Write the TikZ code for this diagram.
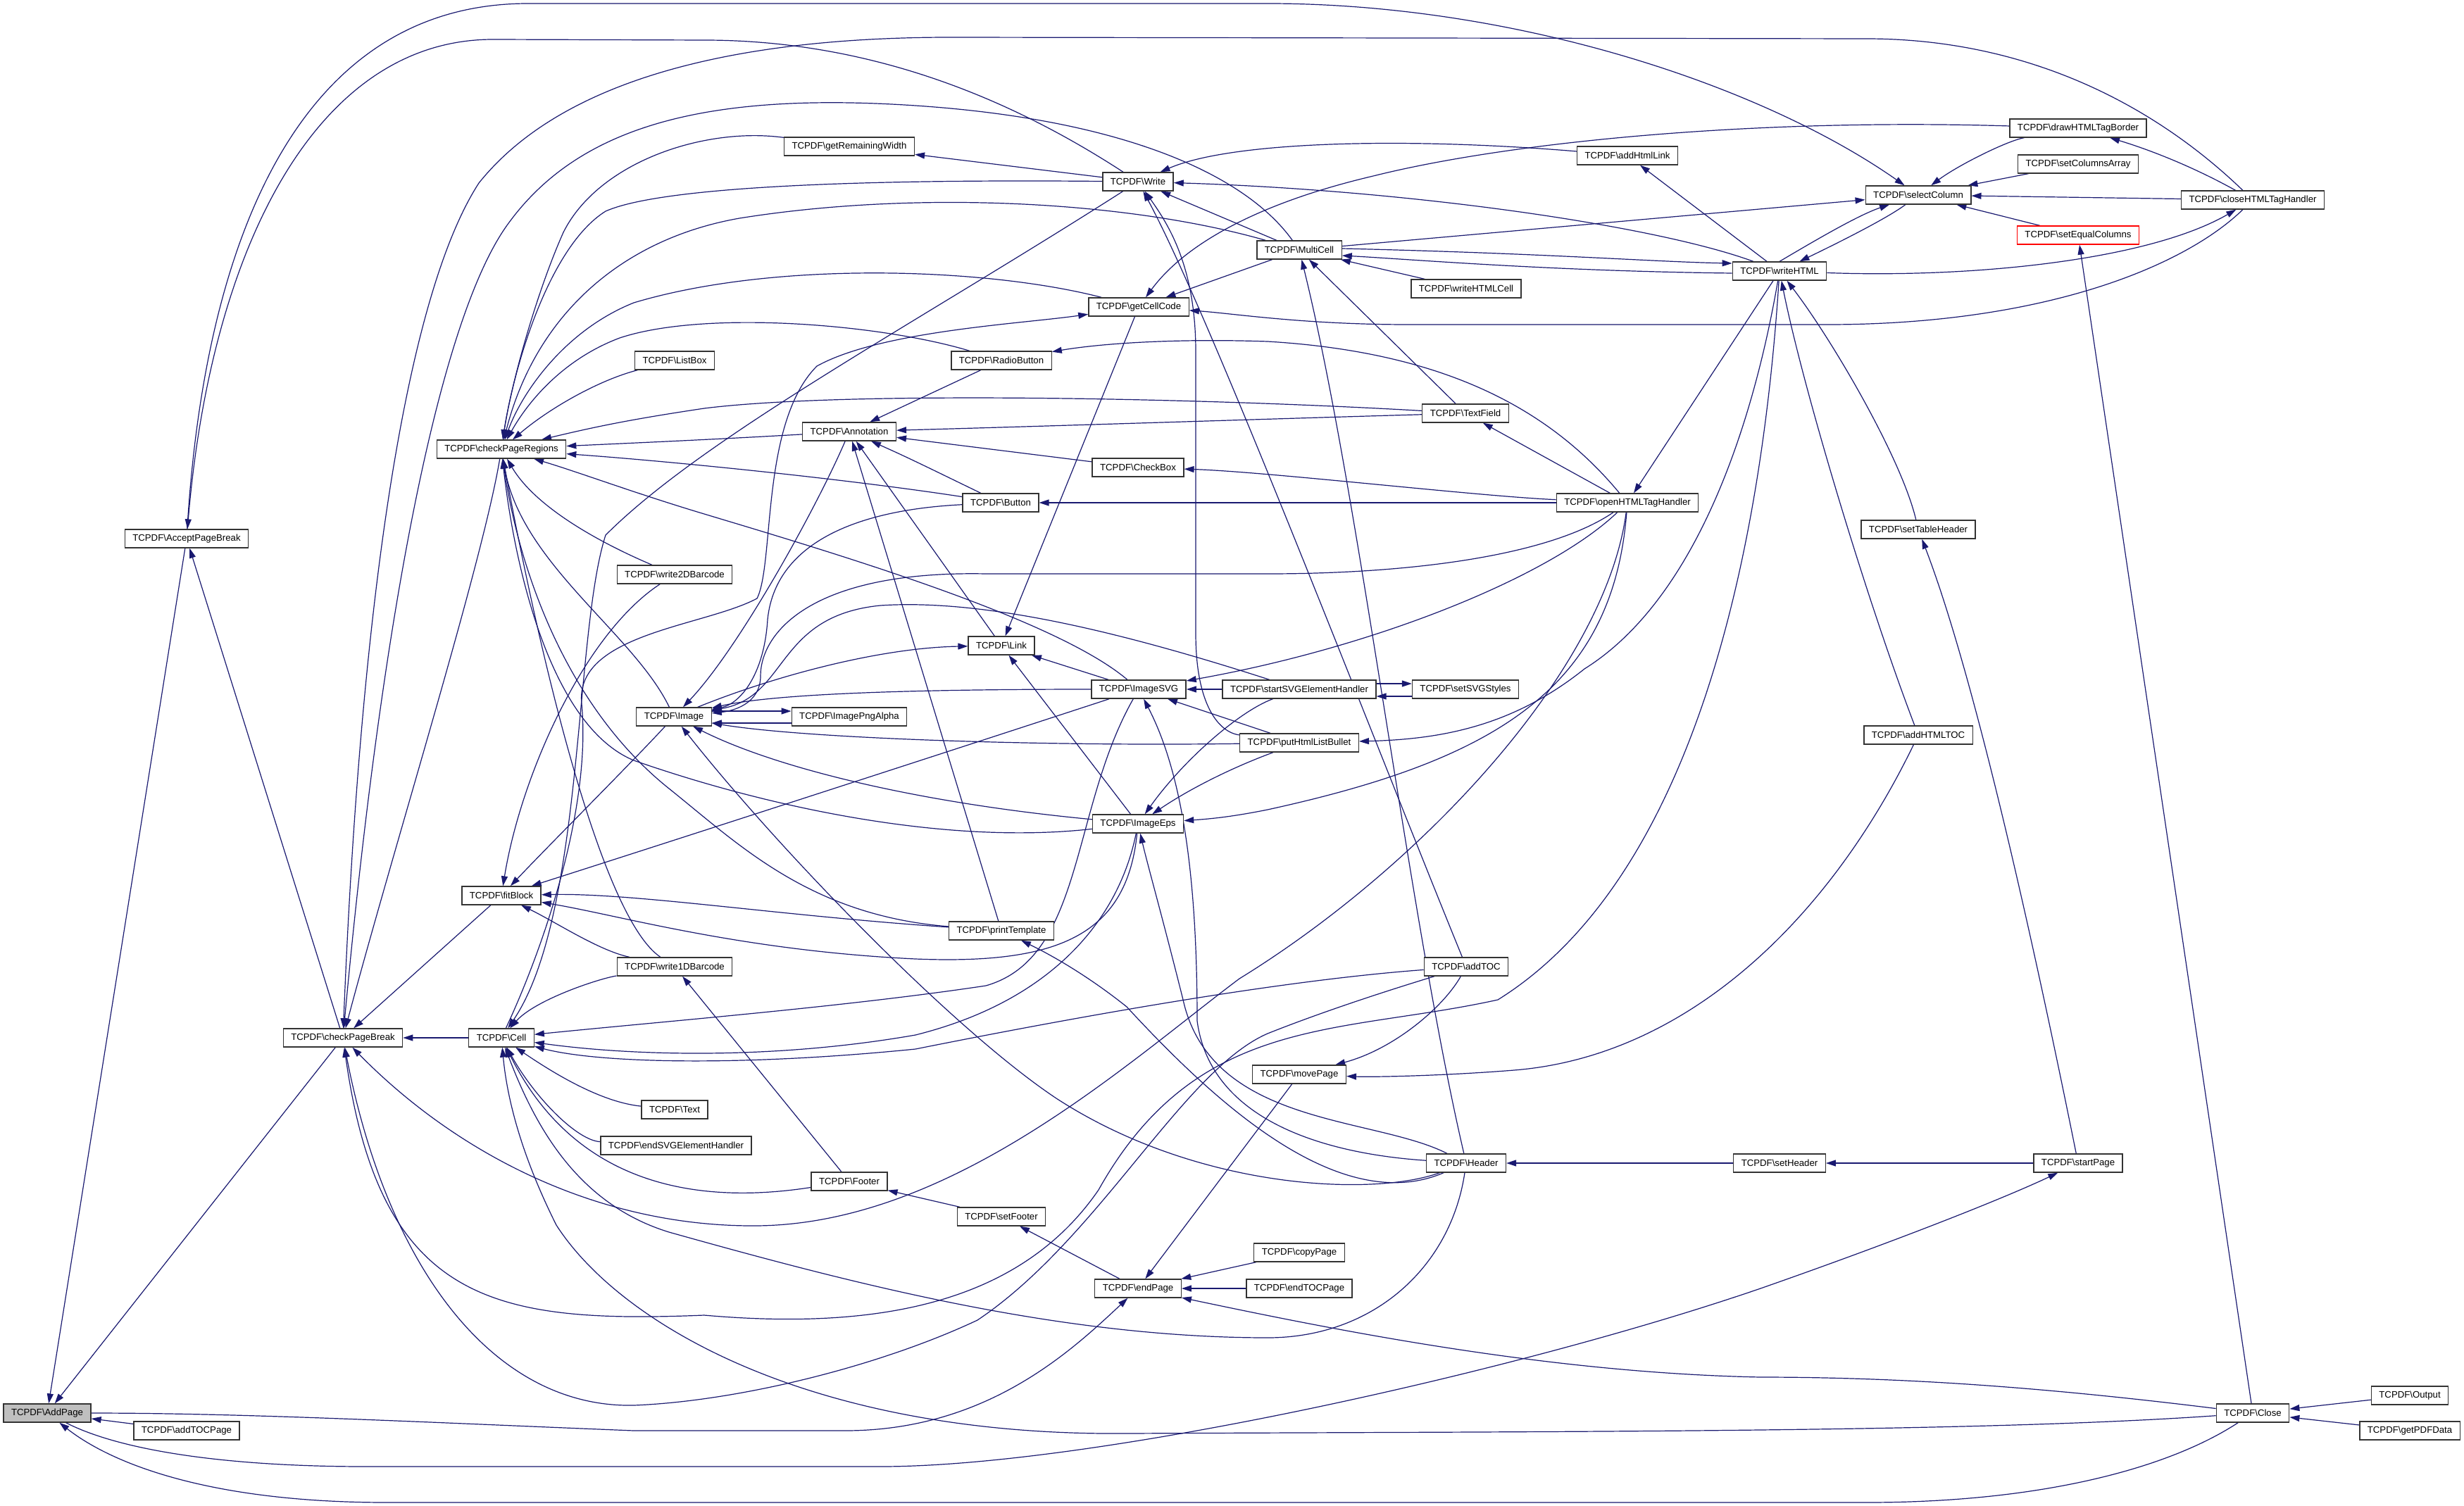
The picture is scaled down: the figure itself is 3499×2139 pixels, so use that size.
\documentclass[tikz,border=0pt]{standalone}
\usepackage{fontspec}
\usetikzlibrary{arrows.meta}
\newfontfamily\dotfont{Liberation Sans}
\definecolor{edgeblue}{HTML}{191970}
\definecolor{focusgrey}{HTML}{BFBFBF}
\newcommand{\tc}[1]{TCPDF\textbackslash #1}
\pgfdeclarelayer{edges}
\pgfsetlayers{edges,main}

\begin{document}
\begin{tikzpicture}[>={Triangle[length=7pt,width=4.5pt]}, x=0.5pt, y=-0.5pt,
    fn/.style={draw=black!80, fill=white, line width=0.65pt, inner xsep=5.5pt, inner ysep=0pt,
      minimum height=13pt, font=\dotfont\fontsize{6.6pt}{8pt}\selectfont},
    call/.style={->, color=edgeblue, line width=0.6pt}]
    \useasboundingbox (0,0) rectangle (3499,2139);
    % functions
    \node[fn, fill=focusgrey] (addpage) at (67,2007) {\tc{AddPage}};
    \node[fn] (addtocpage) at (265,2032) {\tc{addTOCPage}};
    \node[fn] (acceptpb) at (265,765) {\tc{AcceptPageBreak}};
    \node[fn] (checkpb) at (487,1474) {\tc{checkPageBreak}};
    \node[fn] (checkpr) at (712,638) {\tc{checkPageRegions}};
    \node[fn] (fitblock) at (712,1272) {\tc{fitBlock}};
    \node[fn] (cell) at (712,1474) {\tc{Cell}};
    \node[fn] (getremw) at (1206,208) {\tc{getRemainingWidth}};
    \node[fn] (listbox) at (958,512) {\tc{ListBox}};
    \node[fn] (write2d) at (958,816) {\tc{write2DBarcode}};
    \node[fn] (image) at (957,1018) {\tc{Image}};
    \node[fn] (write1d) at (958,1373) {\tc{write1DBarcode}};
    \node[fn] (text) at (958,1576) {\tc{Text}};
    \node[fn] (endsvg) at (960,1627) {\tc{endSVGElementHandler}};
    \node[fn] (annotation) at (1206,613) {\tc{Annotation}};
    \node[fn] (pngalpha) at (1206,1018) {\tc{ImagePngAlpha}};
    \node[fn] (footer) at (1206,1678) {\tc{Footer}};
    \node[fn] (write) at (1616,258) {\tc{Write}};
    \node[fn] (getcellcode) at (1617,436) {\tc{getCellCode}};
    \node[fn] (radiobutton) at (1422,512) {\tc{RadioButton}};
    \node[fn] (button) at (1421,714) {\tc{Button}};
    \node[fn] (link) at (1422,917) {\tc{Link}};
    \node[fn] (printtpl) at (1422,1322) {\tc{printTemplate}};
    \node[fn] (setfooter) at (1422,1728) {\tc{setFooter}};
    \node[fn] (checkbox) at (1616,664) {\tc{CheckBox}};
    \node[fn] (imagesvg) at (1617,979) {\tc{ImageSVG}};
    \node[fn] (imageeps) at (1616,1170) {\tc{ImageEps}};
    \node[fn] (endpage) at (1616,1830) {\tc{endPage}};
    \node[fn] (multicell) at (1845,355) {\tc{MultiCell}};
    \node[fn] (startsvg) at (1845,979) {\tc{startSVGElementHandler}};
    \node[fn] (listbullet) at (1845,1055) {\tc{putHtmlListBullet}};
    \node[fn] (movepage) at (1845,1526) {\tc{movePage}};
    \node[fn] (copypage) at (1845,1779) {\tc{copyPage}};
    \node[fn] (endtocpage) at (1845,1830) {\tc{endTOCPage}};
    \node[fn] (addhtmllink) at (2311,221) {\tc{addHtmlLink}};
    \node[fn] (writehtmlcell) at (2082,410) {\tc{writeHTMLCell}};
    \node[fn] (textfield) at (2081,587) {\tc{TextField}};
    \node[fn] (openhtml) at (2311,714) {\tc{openHTMLTagHandler}};
    \node[fn] (setsvgstyles) at (2081,979) {\tc{setSVGStyles}};
    \node[fn] (addtoc) at (2082,1373) {\tc{addTOC}};
    \node[fn] (header) at (2082,1652) {\tc{Header}};
    \node[fn] (writehtml) at (2527,385) {\tc{writeHTML}};
    \node[fn] (setheader) at (2527,1652) {\tc{setHeader}};
    \node[fn] (selectcolumn) at (2724,277) {\tc{selectColumn}};
    \node[fn] (settableheader) at (2724,752) {\tc{setTableHeader}};
    \node[fn] (addhtmltoc) at (2724,1044) {\tc{addHTMLTOC}};
    \node[fn] (drawborder) at (2951,182) {\tc{drawHTMLTagBorder}};
    \node[fn] (setcolarray) at (2951,233) {\tc{setColumnsArray}};
    \node[fn, draw=red] (setequal) at (2951,334) {\tc{setEqualColumns}};
    \node[fn] (startpage) at (2951,1652) {\tc{startPage}};
    \node[fn] (closehtml) at (3199,284) {\tc{closeHTMLTagHandler}};
    \node[fn] (close) at (3199,2007) {\tc{Close}};
    \node[fn] (output) at (3422,1982) {\tc{Output}};
    \node[fn] (getpdfdata) at (3422,2032) {\tc{getPDFData}};

    \begin{pgfonlayer}{edges}
    \fill[white] (0,0) rectangle (3499,2139);
    % AddPage
    \draw[call] (acceptpb) -- (addpage);
    \draw[call] (checkpb) -- (addpage);
    \draw[call] (addtocpage) -- (addpage);
    \draw[call] (close) .. controls (3080,2085) and (2900,2134) .. (2650,2134) -- (550,2134) .. controls (300,2134) and (160,2080) .. (addpage);
    \draw[call] (addpage) .. controls (350,2007) and (600,2020) .. (900,2032) -- (1200,2032) .. controls (1400,2032) and (1520,1920) .. (endpage);
    \draw[call] (addpage) .. controls (170,2060) and (320,2083) .. (520,2083) -- (1250,2083) .. controls (1550,2083) and (2150,1950) .. (2500,1830) .. controls (2700,1760) and (2850,1700) .. (startpage);
    % checkPageBreak
    \draw[call] (checkpb) -- (acceptpb);
    \draw[call] (write) .. controls (1450,150) and (1250,57) .. (1000,57) -- (700,56) .. controls (450,56) and (300,350) .. (acceptpb);
    \draw[call] (acceptpb) .. controls (290,350) and (420,5) .. (750,5) -- (1800,5) .. controls (2150,5) and (2500,120) .. (selectcolumn);
    \draw[call] (cell) -- (checkpb);
    \draw[call] (fitblock) -- (checkpb);
    \draw[call] (checkpr) .. controls (685,800) and (560,1200) .. (checkpb);
    \draw[call] (closehtml) .. controls (3060,150) and (2880,55) .. (2650,55) -- (1350,53) .. controls (1050,53) and (800,110) .. (680,260) .. controls (570,430) and (510,900) .. (checkpb);
    \draw[call] (multicell) .. controls (1770,250) and (1600,170) .. (1300,150) .. controls (1000,130) and (820,180) .. (720,320) .. controls (620,460) and (540,900) .. (checkpb);
    \draw[call] (openhtml) .. controls (2280,950) and (2020,1230) .. (1760,1390) .. controls (1600,1510) and (1350,1740) .. (1072,1741) .. controls (850,1742) and (650,1640) .. (checkpb);
    \draw[call] (writehtml) .. controls (2500,800) and (2400,1250) .. (2127,1420) .. controls (1900,1470) and (1700,1440) .. (1560,1690) .. controls (1450,1850) and (1250,1890) .. (1000,1868) .. controls (700,1880) and (540,1850) .. (checkpb);
    \draw[call] (addtoc) .. controls (1960,1410) and (1870,1440) .. (1800,1468) .. controls (1680,1520) and (1560,1760) .. (1388,1875) .. controls (1250,1940) and (1050,1990) .. (900,1996) .. controls (700,2000) and (550,1800) .. (checkpb);
    % checkPageRegions
    \draw[call] (getremw) .. controls (1000,180) and (850,230) .. (800,330) .. controls (760,420) and (725,550) .. (checkpr);
    \draw[call] (write) .. controls (1300,255) and (950,260) .. (860,300) .. controls (780,350) and (730,520) .. (checkpr);
    \draw[call] (multicell) .. controls (1600,285) and (1300,270) .. (1050,310) .. controls (880,340) and (760,450) .. (checkpr);
    \draw[call] (getcellcode) .. controls (1400,380) and (1100,370) .. (900,430) .. controls (800,470) and (740,560) .. (checkpr);
    \draw[call] (radiobutton) .. controls (1250,460) and (1000,440) .. (880,480) .. controls (800,510) and (750,570) .. (checkpr);
    \draw[call] (listbox) .. controls (850,540) and (780,580) .. (checkpr);
    \draw[call] (textfield) .. controls (1700,565) and (1200,555) .. (1000,580) .. controls (900,595) and (850,605) .. (checkpr);
    \draw[call] (annotation) .. controls (1000,625) and (880,630) .. (checkpr);
    \draw[call] (button) .. controls (1200,680) and (950,655) .. (checkpr);
    \draw[call] (imagesvg) .. controls (1500,880) and (1200,790) .. (1000,730) .. controls (900,700) and (820,670) .. (checkpr);
    \draw[call] (write2d) .. controls (850,770) and (760,720) .. (checkpr);
    \draw[call] (image) .. controls (900,900) and (740,800) .. (checkpr);
    \draw[call] (write1d) .. controls (850,1300) and (760,900) .. (checkpr);
    \draw[call] (imageeps) .. controls (1350,1200) and (1100,1150) .. (900,1080) .. controls (780,1030) and (730,800) .. (checkpr);
    \draw[call] (printtpl) .. controls (1150,1300) and (1050,1200) .. (950,1120) .. controls (800,1000) and (735,800) .. (checkpr);
    % fitBlock
    \draw[call] (write2d) .. controls (830,900) and (740,1100) .. (fitblock);
    \draw[call] (image) .. controls (900,1080) and (780,1200) .. (fitblock);
    \draw[call] (imagesvg) .. controls (1400,1050) and (1000,1180) .. (fitblock);
    \draw[call] (printtpl) .. controls (1100,1300) and (900,1268) .. (fitblock);
    \draw[call] (imageeps) .. controls (1600,1330) and (1500,1370) .. (1300,1362) .. controls (1050,1350) and (880,1300) .. (fitblock);
    \draw[call] (write1d) .. controls (850,1350) and (790,1310) .. (fitblock);
    % Cell
    \draw[call] (write) .. controls (1300,460) and (1000,620) .. (860,760) .. controls (815,900) and (830,1300) .. (cell);
    \draw[call] (text) .. controls (850,1565) and (780,1520) .. (cell);
    \draw[call] (endsvg) .. controls (820,1620) and (760,1560) .. (cell);
    \draw[call] (footer) .. controls (1000,1710) and (820,1690) .. (cell);
    \draw[call] (header) .. controls (2060,1800) and (1950,1900) .. (1800,1900) .. controls (1500,1900) and (1200,1820) .. (950,1750) .. controls (820,1710) and (760,1600) .. (cell);
    \draw[call] (close) .. controls (2800,2035) and (2200,2033) .. (1600,2036) .. controls (1150,2040) and (880,1880) .. (790,1740) .. controls (740,1640) and (720,1560) .. (cell);
    \draw[call] (addtoc) .. controls (1850,1390) and (1600,1430) .. (1300,1490) .. controls (1050,1515) and (850,1510) .. (cell);
    \draw[call] (imageeps) .. controls (1590,1300) and (1500,1420) .. (1300,1470) .. controls (1100,1505) and (900,1500) .. (cell);
    \draw[call] (imagesvg) .. controls (1520,1150) and (1540,1360) .. (1400,1400) .. controls (1200,1430) and (950,1450) .. (cell);
    \draw[call] (write1d) .. controls (850,1390) and (760,1420) .. (cell);
    \draw[call] (cell) .. controls (770,1350) and (840,1150) .. (826,1000) .. controls (815,900) and (1000,890) .. (1075,850) .. controls (1100,800) and (1080,600) .. (1160,520) .. controls (1250,470) and (1450,460) .. (getcellcode);
    % Image
    \draw[call] ([yshift=4pt]image.east) -- ([yshift=4pt]pngalpha.west);
    \draw[call] ([yshift=-4.5pt]pngalpha.west) -- ([yshift=-4.5pt]image.east);
    \draw[call] (imagesvg) .. controls (1300,979) and (1100,985) .. (image);
    \draw[call] (imageeps) .. controls (1300,1140) and (1100,1090) .. (image);
    \draw[call] (listbullet) .. controls (1500,1060) and (1150,1050) .. (image);
    \draw[call] (startsvg) .. controls (1600,900) and (1400,850) .. (1250,860) .. controls (1100,875) and (1120,990) .. (image);
    \draw[call] (openhtml) .. controls (2200,790) and (2000,815) .. (1800,815) -- (1400,815) .. controls (1150,810) and (1080,900) .. (1080,960) .. controls (1080,1000) and (1040,1010) .. (image);
    \draw[call] (header) .. controls (1950,1700) and (1700,1690) .. (1500,1560) .. controls (1350,1460) and (1100,1200) .. (image);
    \draw[call] (annotation) .. controls (1160,720) and (1050,920) .. (image);
    \draw[call] (button) .. controls (1200,725) and (1100,780) .. (1090,880) .. controls (1085,960) and (1050,1000) .. (image);
    \draw[call] (image) .. controls (1100,960) and (1250,920) .. (link);
    % Link, Annotation
    \draw[call] (imagesvg) -- (link);
    \draw[call] (imageeps) -- (link);
    \draw[call] (getcellcode) -- (link);
    \draw[call] (link) -- (annotation);
    \draw[call] (radiobutton) -- (annotation);
    \draw[call] (button) .. controls (1330,670) and (1290,650) .. (annotation);
    \draw[call] (checkbox) -- (annotation);
    \draw[call] (textfield) .. controls (1800,595) and (1500,605) .. (annotation);
    \draw[call] (printtpl) -- (annotation);
    % Write
    \draw[call] (write) -- (getremw);
    \draw[call] (addhtmllink) .. controls (2000,195) and (1750,200) .. (write);
    \draw[call] (writehtml) .. controls (2350,320) and (2000,270) .. (write);
    \draw[call] (multicell) -- (write);
    \draw[call] (listbullet) .. controls (1730,1040) and (1698,1000) .. (1698,900) -- (1698,500) .. controls (1698,380) and (1660,320) .. (write);
    \draw[call] (addtoc) .. controls (1950,1050) and (1720,450) .. (write);
    % getCellCode
    \draw[call] (drawborder) .. controls (2500,168) and (2150,200) .. (1950,250) .. controls (1780,290) and (1680,350) .. (getcellcode);
    \draw[call] (multicell) -- (getcellcode);
    \draw[call] (closehtml) .. controls (3100,380) and (2900,460) .. (2600,461) -- (2000,461) .. controls (1850,461) and (1750,445) .. (getcellcode);
    % MultiCell
    \draw[call] (writehtmlcell) -- (multicell);
    \draw[call] (textfield) -- (multicell);
    \draw[call] (header) .. controls (2000,1300) and (1930,700) .. (multicell);
    \draw[call] ([yshift=1pt]multicell.east) .. controls (2200,360) and (2350,372) .. ([yshift=5.5pt]writehtml.west);
    \draw[call] ([yshift=-1.5pt]writehtml.west) .. controls (2200,385) and (2000,368) .. ([yshift=-4pt]multicell.east);
    \draw[call] (multicell) -- (selectcolumn);
    % writeHTML
    \draw[call] (writehtml) -- (addhtmllink);
    \draw[call] (writehtml.north) .. controls (2580,340) and (2640,305) .. (selectcolumn);
    \draw[call] (selectcolumn) .. controls (2680,310) and (2610,345) .. (writehtml);
    \draw[call] (writehtml) -- (openhtml);
    \draw[call] (writehtml) .. controls (2800,395) and (3050,370) .. (closehtml);
    \draw[call] (writehtml) .. controls (2490,600) and (2410,850) .. (2250,950) .. controls (2150,1030) and (2050,1050) .. (listbullet);
    \draw[call] (settableheader) .. controls (2700,650) and (2600,480) .. (writehtml);
    \draw[call] (addhtmltoc) .. controls (2650,850) and (2560,550) .. (writehtml);
    % selectColumn
    \draw[call] (drawborder) .. controls (2850,200) and (2780,235) .. (selectcolumn);
    \draw[call] (setcolarray) -- (selectcolumn);
    \draw[call] (setequal) -- (selectcolumn);
    \draw[call] (closehtml) -- (selectcolumn);
    \draw[call] (closehtml) .. controls (3120,240) and (3060,215) .. (drawborder);
    \draw[call] (close) -- (setequal);
    % openHTMLTagHandler
    \draw[call] (openhtml) -- (textfield);
    \draw[call] (openhtml) .. controls (2200,580) and (2050,500) .. (1800,485) .. controls (1650,480) and (1550,490) .. (radiobutton);
    \draw[call] (openhtml) .. controls (2100,705) and (1800,670) .. (checkbox);
    \draw[call] (openhtml) -- (button);
    \draw[call] (openhtml) .. controls (2200,820) and (1950,920) .. (imagesvg);
    \draw[call] (openhtml) .. controls (2290,980) and (2120,1080) .. (1800,1150) .. controls (1750,1160) and (1720,1163) .. (imageeps);
    % SVG handlers, list bullets
    \draw[call] ([yshift=4pt]startsvg.east) -- ([yshift=4pt]setsvgstyles.west);
    \draw[call] ([yshift=-5pt]setsvgstyles.west) -- ([yshift=-5pt]startsvg.east);
    \draw[call] (startsvg) -- (imagesvg);
    \draw[call] (startsvg) .. controls (1760,1010) and (1680,1080) .. (imageeps);
    \draw[call] (listbullet) -- (imagesvg);
    \draw[call] (listbullet) .. controls (1750,1090) and (1690,1120) .. (imageeps);
    % Header
    \draw[call] (header) .. controls (1900,1640) and (1720,1600) .. (1700,1450) .. controls (1700,1250) and (1680,1100) .. (imagesvg);
    \draw[call] (header) .. controls (1950,1585) and (1720,1600) .. (1680,1420) .. controls (1650,1300) and (1630,1230) .. (imageeps);
    \draw[call] (header) .. controls (1900,1730) and (1720,1560) .. (1600,1430) .. controls (1550,1390) and (1500,1360) .. (printtpl);
    \draw[call] (setheader) -- (header);
    \draw[call] (startpage) -- (setheader);
    \draw[call] (startpage) .. controls (2880,1300) and (2800,950) .. (settableheader);
    % endPage
    \draw[call] (endpage) -- (setfooter);
    \draw[call] (setfooter) -- (footer);
    \draw[call] (footer) -- (write1d);
    \draw[call] (movepage) -- (endpage);
    \draw[call] (copypage) -- (endpage);
    \draw[call] (endtocpage) -- (endpage);
    \draw[call] (close) .. controls (2900,1970) and (2700,1956) .. (2500,1956) .. controls (2200,1950) and (1900,1890) .. (endpage);
    \draw[call] (addhtmltoc) .. controls (2600,1300) and (2400,1500) .. (2150,1520) .. controls (2050,1528) and (1950,1530) .. (movepage);
    \draw[call] (addtoc) .. controls (2050,1430) and (1980,1490) .. (movepage);
    \draw[call] (output) -- (close);
    \draw[call] (getpdfdata) -- (close);
    \end{pgfonlayer}
\end{tikzpicture}
\end{document}
